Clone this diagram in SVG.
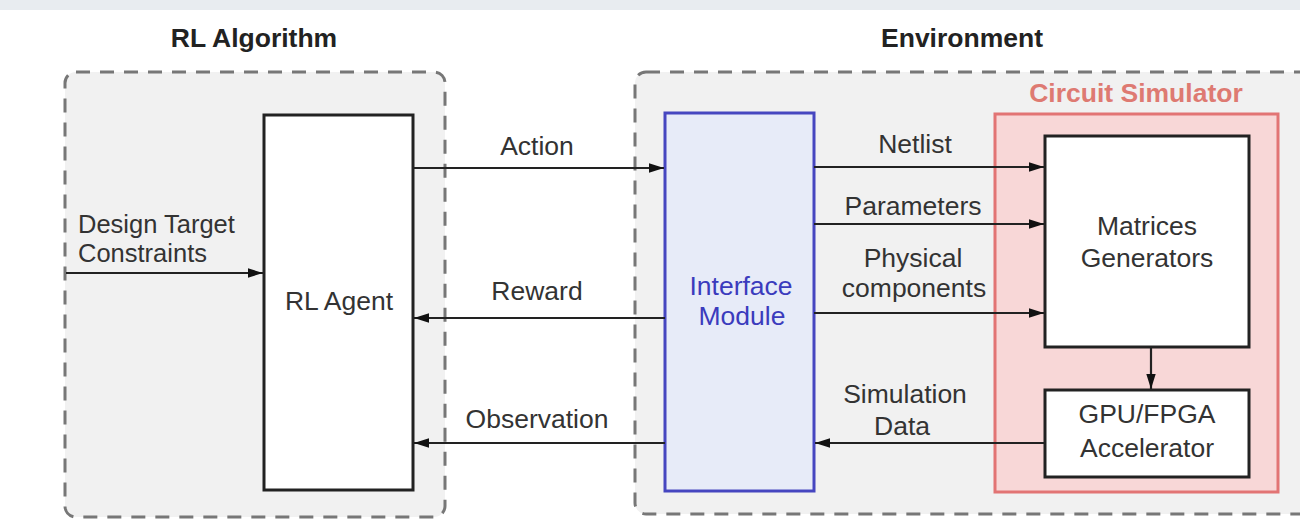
<svg xmlns="http://www.w3.org/2000/svg" width="1300" height="520" viewBox="0 0 1300 520">
<defs>
<marker id="ah" viewBox="0 0 16 10" refX="16" refY="5" markerWidth="15" markerHeight="10" orient="auto" markerUnits="userSpaceOnUse">
<path d="M0,0 L16,5 L0,10 z" fill="#111"/>
</marker>
<style>
text{font-family:"Liberation Sans",Arial,sans-serif;font-size:26.5px;fill:#333;}
.title{font-weight:bold;fill:#222;}
.grp{fill:#f1f1f1;stroke:#777;stroke-width:3;stroke-dasharray:14,10;}
.box{fill:#fff;stroke:#222;stroke-width:3;}
.conn{stroke:#222;stroke-width:2.2;fill:none;marker-end:url(#ah);}
.c{text-anchor:middle;}
.blue{fill:#3b3bbd;}
.sm{font-size:25.5px;}
</style>
</defs>
<rect x="0" y="0" width="1300" height="10" fill="#e8ecf0"/>
<rect x="0" y="10" width="1300" height="510" fill="#fff"/>

<g id="rl-algorithm">
<rect class="grp" x="65" y="72" width="380" height="445" rx="11"/>
<text class="title c" x="254" y="47">RL Algorithm</text>
</g>
<g id="environment">
<rect class="grp" x="635" y="72" width="700" height="442" rx="11"/>
<text class="title c" x="962" y="47">Environment</text>
</g>

<g id="rl-agent">
<rect class="box" x="264" y="115" width="149" height="375"/>
<text class="c" x="339" y="310">RL Agent</text>
</g>

<g id="interface-module">
<rect x="665" y="113" width="149" height="378" fill="#e7ebf8" stroke="#4646c0" stroke-width="3"/>
<text class="c blue" x="741" y="295">Interface</text>
<text class="c blue" x="742" y="325">Module</text>
</g>

<g id="circuit-simulator">
<rect x="995" y="114" width="283" height="378" fill="#f8d7d7" stroke="#e27474" stroke-width="3"/>
<text class="title c" x="1136" y="102" style="fill:#de7a72">Circuit Simulator</text>
</g>

<g id="matrices-generators">
<rect class="box" x="1045" y="136" width="204" height="211"/>
<text class="c" x="1147" y="235">Matrices</text>
<text class="c" x="1147" y="267">Generators</text>
</g>

<g id="gpu-fpga">
<rect class="box" x="1045" y="390" width="204" height="87"/>
<text class="c" x="1147" y="423">GPU/FPGA</text>
<text class="c" x="1147" y="457">Accelerator</text>
</g>

<g id="connectors">
<line class="conn" x1="66" y1="273" x2="263" y2="273"/>
<line class="conn" x1="413" y1="168" x2="664" y2="168"/>
<line class="conn" x1="665" y1="318" x2="414" y2="318"/>
<line class="conn" x1="665" y1="443" x2="414" y2="443"/>
<line class="conn" x1="814" y1="167" x2="1044" y2="167"/>
<line class="conn" x1="814" y1="224" x2="1044" y2="224"/>
<line class="conn" x1="814" y1="313" x2="1044" y2="313"/>
<line class="conn" x1="1045" y1="443" x2="815" y2="443"/>
<line class="conn" x1="1151" y1="347" x2="1151" y2="389"/>
<text class="sm" x="78" y="233">Design Target</text>
<text class="sm" x="78" y="262">Constraints</text>
<text class="c" x="537" y="155">Action</text>
<text class="c" x="537" y="300">Reward</text>
<text class="c" x="537" y="428">Observation</text>
<text class="c" x="915" y="153">Netlist</text>
<text class="c" x="913" y="215">Parameters</text>
<text class="c" x="913" y="267">Physical</text>
<text class="c" x="914" y="297">components</text>
<text class="c" x="905" y="403">Simulation</text>
<text class="c" x="902" y="435">Data</text>
</g>
</svg>
